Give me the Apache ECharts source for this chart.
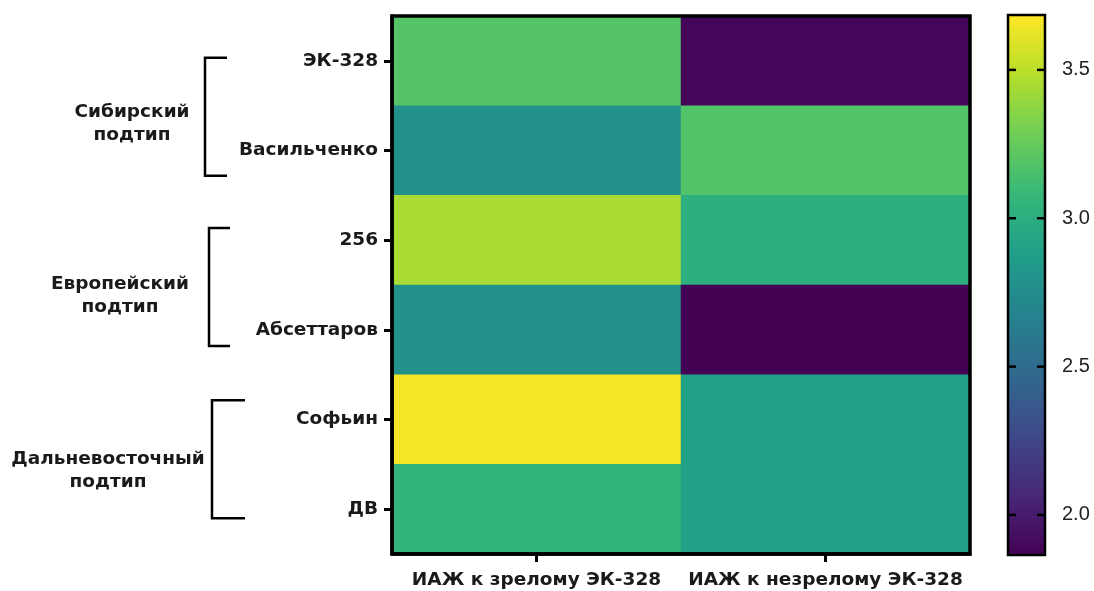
<!DOCTYPE html>
<html>
<head>
<meta charset="utf-8">
<script src="https://cdn.jsdelivr.net/npm/echarts@6/dist/echarts.min.js"></script>
<style>
  html, body { margin: 0; padding: 0; background: #fff; }
  #chart { width: 1094px; height: 591px; }
</style>
</head>
<body>
<div id="chart"></div>
<script>
// Columns and rows of the heat map
const columns = ['ИАЖ к зрелому ЭК-328', 'ИАЖ к незрелому ЭК-328'];
const strains = ['ЭК-328', 'Васильченко', '256', 'Абсеттаров', 'Софьин', 'ДВ'];

// Values per strain, one array per column
const matureValues   = [3.19, 2.78, 3.45, 2.79, 3.66, 3.05];
const immatureValues = [1.89, 3.18, 3.01, 1.87, 2.90, 2.90];

// Colour scale range and its tick labels
const scaleMin = 1.865;
const scaleMax = 3.685;
const scaleTicks = [2.0, 2.5, 3.0, 3.5];

// Subtype groups (first and last row index)
const groupNames = ['Сибирский\nподтип', 'Европейский\nподтип', 'Дальневосточный\nподтип'];
const groupRows = [[0, 1], [2, 3], [4, 5]];

const viridis = ['#440154', '#482878', '#3e4989', '#31688e', '#26828e',
                 '#1f9e89', '#35b779', '#6ece58', '#b5de2b', '#fde725'];

const cells = [];
strains.forEach((s, i) => {
  cells.push([0, i, matureValues[i]]);
  cells.push([1, i, immatureValues[i]]);
});

const BOLD_FONT = '"DejaVu Sans", sans-serif';
const NUM_FONT = '"Liberation Sans", Arial, sans-serif';
const LABEL_SIZE = 18.5;
const chart = echarts.init(document.getElementById('chart'), null, { renderer: 'canvas' });

chart.setOption({
  animation: false,
  backgroundColor: '#ffffff',
  grid: [
    { left: 392, top: 16, width: 578, height: 538, show: true,
      borderColor: '#000', borderWidth: 3.5, backgroundColor: 'transparent', z: 10 },
    { left: 1008, top: 15, width: 37, height: 540, show: true,
      borderColor: '#000', borderWidth: 2.5, backgroundColor: 'transparent', z: 10 }
  ],
  xAxis: [
    { type: 'category', data: columns, gridIndex: 0,
      axisLine: { show: true, lineStyle: { color: '#000', width: 3.5 } },
      axisTick: { show: true, interval: 0, alignWithLabel: true, length: 8,
                  lineStyle: { color: '#000', width: 3 } },
      axisLabel: { interval: 0, fontFamily: BOLD_FONT, fontSize: LABEL_SIZE, fontWeight: 'bold',
                   color: '#1a1a1a', margin: 17 },
      splitLine: { show: false }, z: 10 },
    { type: 'value', gridIndex: 1, show: false }
  ],
  yAxis: [
    { type: 'category', data: strains, inverse: true, gridIndex: 0,
      axisLine: { show: true, lineStyle: { color: '#000', width: 3.5 } },
      axisTick: { show: true, interval: 0, alignWithLabel: true, length: 8,
                  lineStyle: { color: '#000', width: 3 } },
      axisLabel: { interval: 0, fontFamily: BOLD_FONT, fontSize: LABEL_SIZE, fontWeight: 'bold',
                   color: '#1a1a1a', margin: 14 },
      splitLine: { show: false }, z: 10 },
    { type: 'value', gridIndex: 1, position: 'right', min: scaleMin, max: scaleMax,
      axisLine: { show: false },
      axisTick: { show: false },
      axisLabel: { show: true, customValues: scaleTicks, formatter: v => v.toFixed(1),
                   fontFamily: NUM_FONT, fontSize: 20, color: '#222', margin: 17 },
      splitLine: { show: false }, z: 10 }
  ],
  visualMap: {
    type: 'continuous', min: scaleMin, max: scaleMax, seriesIndex: 0,
    calculable: false, orient: 'vertical', left: 1008, top: 15, padding: 0,
    itemWidth: 37, itemHeight: 540, text: null, showLabel: false,
    inRange: { color: viridis }, hoverLink: false
  },
  series: [{
    type: 'heatmap', xAxisIndex: 0, yAxisIndex: 0, data: cells,
    itemStyle: { borderWidth: 0 }, emphasis: { disabled: true }, z: 2
  }]
});

// Subtype brackets and captions, placed from the category positions
const bracketShift = [11, 2, -5];
const bracketX = [205, 209, 212];
const bracketEnd = [227, 230, 245];
const captionX = [132, 120, 108];
const captionShift = [7, 9, 11];
const graphics = [];
groupRows.forEach((rows, g) => {
  const yA = chart.convertToPixel({ yAxisIndex: 0 }, strains[rows[0]]);
  const yB = chart.convertToPixel({ yAxisIndex: 0 }, strains[rows[1]]);
  const mid = (yA + yB) / 2 + bracketShift[g];
  const half = 59;
  graphics.push({
    type: 'polyline', id: 'bracket' + g, silent: true,
    shape: { points: [[bracketEnd[g], mid - half], [bracketX[g], mid - half],
                      [bracketX[g], mid + half], [bracketEnd[g], mid + half]] },
    style: { stroke: '#000', lineWidth: 2.5, fill: null }
  });
  graphics.push({
    type: 'text', id: 'caption' + g, silent: true, x: captionX[g], y: mid + captionShift[g],
    style: { text: groupNames[g], fontFamily: BOLD_FONT, fontSize: LABEL_SIZE, fontWeight: 'bold',
             fill: '#1a1a1a', align: 'center', verticalAlign: 'middle', lineHeight: 23 }
  });
});

// Short inner ticks on both edges of the colour bar
const barLeft = 1008, barRight = 1045, tickLen = 8, tickW = 2.5;
scaleTicks.forEach((v, k) => {
  const y = chart.convertToPixel({ yAxisIndex: 1 }, v);
  graphics.push({
    type: 'rect', id: 'tickL' + k, silent: true, zlevel: 2, z: 100,
    x: barLeft, y: y - tickW / 2,
    shape: { x: 0, y: 0, width: tickLen, height: tickW },
    style: { fill: '#000' }
  });
  graphics.push({
    type: 'rect', id: 'tickR' + k, silent: true, zlevel: 2, z: 100,
    x: barRight - tickLen, y: y - tickW / 2,
    shape: { x: 0, y: 0, width: tickLen, height: tickW },
    style: { fill: '#000' }
  });
});
chart.setOption({ graphic: graphics });
</script>
</body>
</html>
